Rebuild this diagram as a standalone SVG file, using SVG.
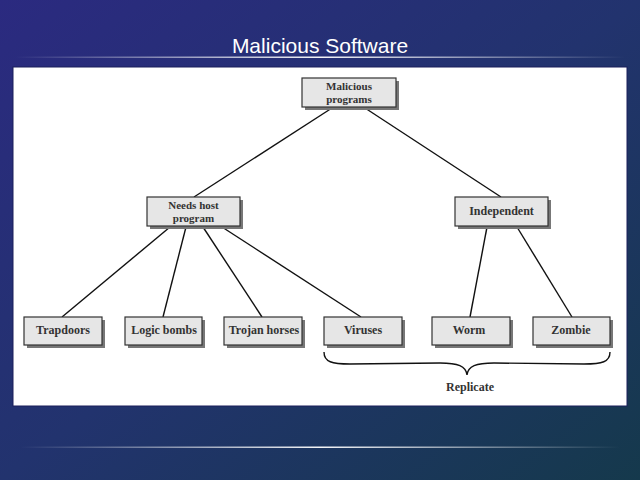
<svg xmlns="http://www.w3.org/2000/svg" width="640" height="480" viewBox="0 0 640 480">
<defs>
<linearGradient id="bg" x1="0" y1="0" x2="1" y2="1">
<stop offset="0" stop-color="#2b2a80"/>
<stop offset="0.5" stop-color="#22336e"/>
<stop offset="1" stop-color="#15394c"/>
</linearGradient>
<linearGradient id="rule" x1="0" y1="0" x2="1" y2="0">
<stop offset="0" stop-color="#ffffff" stop-opacity="0"/>
<stop offset="0.5" stop-color="#ffffff" stop-opacity="0.95"/>
<stop offset="1" stop-color="#ffffff" stop-opacity="0"/>
</linearGradient>
<style>
.box{fill:#e6e6e6;stroke:#333;stroke-width:1.2}
.sh{fill:#777}
.lbl{font-family:"Liberation Serif","Times New Roman",serif;font-weight:bold;font-size:12px;fill:#333;text-anchor:middle}
.two{font-size:11px}
.ln{stroke:#111;stroke-width:1.4;fill:none}
</style>
</defs>
<rect width="640" height="480" fill="url(#bg)"/>
<text x="320" y="53" font-family="'Liberation Sans',Arial,sans-serif" font-size="21" fill="#ffffff" text-anchor="middle">Malicious Software</text>
<rect x="15" y="56.5" width="610" height="1.5" fill="url(#rule)"/>
<rect x="13" y="67" width="614" height="339" fill="#ffffff" stroke="#1a1f5a" stroke-width="1"/>
<rect x="20" y="446.5" width="600" height="1.5" fill="url(#rule)"/>

<g id="connectors">
<line class="ln" x1="332" y1="108" x2="194" y2="197"/>
<line class="ln" x1="365" y1="108" x2="501" y2="197"/>
<line class="ln" x1="170" y1="227" x2="62" y2="317"/>
<line class="ln" x1="186" y1="227" x2="163" y2="317"/>
<line class="ln" x1="203" y1="227" x2="262" y2="317"/>
<line class="ln" x1="222" y1="227" x2="361" y2="317"/>
<line class="ln" x1="487" y1="227" x2="470" y2="317"/>
<line class="ln" x1="517" y1="227" x2="572" y2="317"/>
</g>

<g id="malicious">
<rect class="sh" x="305" y="81" width="94" height="29"/>
<rect class="box" x="302" y="78" width="94" height="29"/>
<text class="lbl two" x="349" y="89.5">Malicious</text>
<text class="lbl two" x="349" y="102.5">programs</text>
</g>
<g id="needs-host">
<rect class="sh" x="150" y="200" width="93" height="29"/>
<rect class="box" x="147" y="197" width="93" height="29"/>
<text class="lbl two" x="193.5" y="208.5">Needs host</text>
<text class="lbl two" x="193.5" y="221.5">program</text>
</g>
<g id="independent">
<rect class="sh" x="458" y="200" width="93" height="29"/>
<rect class="box" x="455" y="197" width="93" height="29"/>
<text class="lbl" x="501.5" y="215">Independent</text>
</g>
<g id="trapdoors">
<rect class="sh" x="27" y="320" width="78" height="28"/>
<rect class="box" x="24" y="317" width="78" height="28"/>
<text class="lbl" x="63" y="334">Trapdoors</text>
</g>
<g id="logic-bombs">
<rect class="sh" x="128" y="320" width="77" height="28"/>
<rect class="box" x="125" y="317" width="77" height="28"/>
<text class="lbl" x="164" y="334">Logic bombs</text>
</g>
<g id="trojan-horses">
<rect class="sh" x="227" y="320" width="78" height="28"/>
<rect class="box" x="224" y="317" width="78" height="28"/>
<text class="lbl" x="264" y="334">Trojan horses</text>
</g>
<g id="viruses">
<rect class="sh" x="327" y="320" width="78" height="28"/>
<rect class="box" x="324" y="317" width="78" height="28"/>
<text class="lbl" x="363" y="334">Viruses</text>
</g>
<g id="worm">
<rect class="sh" x="435" y="320" width="78" height="28"/>
<rect class="box" x="432" y="317" width="78" height="28"/>
<text class="lbl" x="469" y="334">Worm</text>
</g>
<g id="zombie">
<rect class="sh" x="536" y="320" width="77" height="28"/>
<rect class="box" x="533" y="317" width="77" height="28"/>
<text class="lbl" x="571" y="334">Zombie</text>
</g>
<g id="replicate">
<path class="ln" d="M324 352 C324 362 332 364 350 364 L440 363 C458 363 466 366 467 375 C468 366 476 363 494 363 L584 364 C602 364 610 362 610 352"/>
<text class="lbl" x="470" y="391">Replicate</text>
</g>
</svg>
